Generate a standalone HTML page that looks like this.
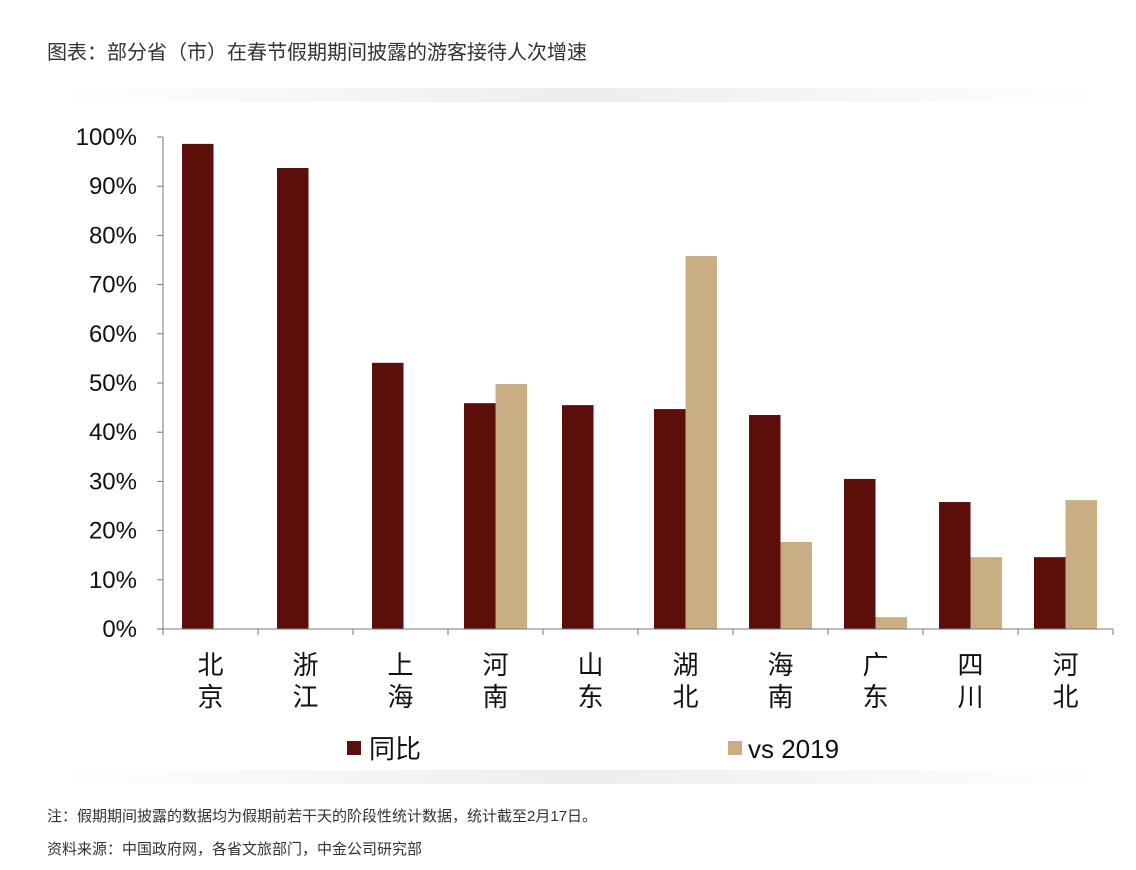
<!DOCTYPE html>
<html><head><meta charset="utf-8"><style>
body{margin:0;background:#fff;width:1136px;height:870px;overflow:hidden;font-family:"Liberation Sans","Noto Sans CJK SC",sans-serif}
.t{position:absolute;left:47px;top:36px;font-size:20px;color:#333}
.n{position:absolute;left:47px;font-size:15px;color:#333}
.band{position:absolute;left:60px;width:1040px;height:14px;background:linear-gradient(to right,rgba(255,255,255,0),rgba(220,220,220,0.5),rgba(255,255,255,0))}
</style></head><body>
<div class="t">图表：部分省（市）在春节假期期间披露的游客接待人次增速</div>
<div class="band" style="top:88px"></div>
<div class="band" style="top:770px"></div>
<svg id="c" width="1136" height="870" style="position:absolute;left:0;top:0"></svg>
<div class="n" style="top:805px">注：假期期间披露的数据均为假期前若干天的阶段性统计数据，统计截至2月17日。</div>
<div class="n" style="top:838px">资料来源：中国政府网，各省文旅部门，中金公司研究部</div>
<script>
const categories=["北京","浙江","上海","河南","山东","湖北","海南","广东","四川","河北"];
const yoy=[98.6,93.7,54.1,45.9,45.5,44.7,43.5,30.5,25.8,14.6];
const vs2019=[null,null,null,49.8,null,75.8,17.7,2.4,14.6,26.2];
const yTicks=[0,10,20,30,40,50,60,70,80,90,100];
const svg=document.getElementById('c');const NS='http://www.w3.org/2000/svg';
const x0=163,x1=1113,y0=629,y100=137;
const y=v=>y0-(y0-y100)*v/100;const cw=(x1-x0)/categories.length;const bw=31.5;
function mk(t,a,p){const e=document.createElementNS(NS,t);for(const k in a)e.setAttribute(k,a[k]);(p||svg).appendChild(e);return e;}
yTicks.forEach(v=>{mk('line',{x1:157,x2:x0,y1:y(v),y2:y(v),stroke:'#777'});
const t=mk('text',{x:137,y:y(v)+8,'text-anchor':'end','font-size':24,fill:'#111'});t.textContent=v+'%';
});
categories.forEach((c,i)=>{const cx=x0+cw*(i+0.5);
mk('line',{x1:x0+cw*i,x2:x0+cw*i,y1:y0,y2:y0+6,stroke:'#777'});
const hasV=vs2019[i]!=null;
const bx=hasV?cx-bw:x0+cw*i+19;
const r=mk('rect',{x:bx,y:y(yoy[i]),width:bw,height:y0-y(yoy[i]),fill:'#5b0e0a'});

if(hasV){const r2=mk('rect',{x:cx,y:y(vs2019[i]),width:bw,height:y0-y(vs2019[i]),fill:'#c9ae83'});
}
[0,1].forEach(k=>{const t=mk('text',{x:cx,y:674+k*32,'text-anchor':'middle','font-size':26,fill:'#111'});t.textContent=c[k];
});
});
mk('line',{x1:x1,x2:x1,y1:y0,y2:y0+6,stroke:'#777'});
mk('line',{x1:x0,x2:x0,y1:y100,y2:y0,stroke:'#777'});
mk('line',{x1:x0,x2:x1,y1:y0,y2:y0,stroke:'#777'});
const l1=mk('rect',{x:347,y:741,width:14,height:14,fill:'#5b0e0a'});
let t=mk('text',{x:369,y:758,'font-size':26,fill:'#111'});t.textContent='同比';
const l2=mk('rect',{x:728,y:741,width:14,height:14,fill:'#c9ae83'});
t=mk('text',{x:748,y:758,'font-size':26,fill:'#111'});t.textContent='vs 2019';
</script>
</body></html>
